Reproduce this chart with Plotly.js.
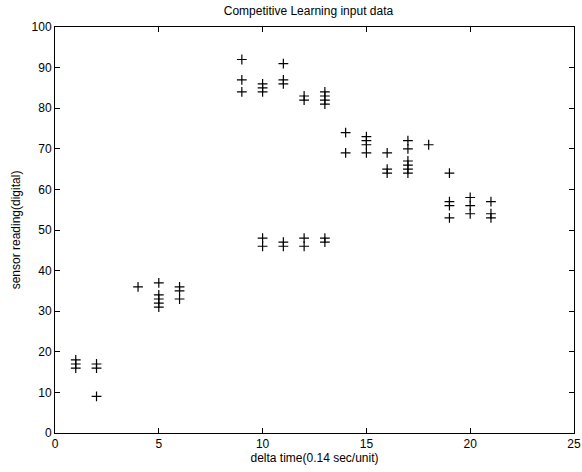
<!DOCTYPE html>
<html>
<head>
<meta charset="utf-8">
<script src="https://cdn.plot.ly/plotly-3.0.1.min.js"></script>
<style>html,body{margin:0;padding:0;background:#fff;}#plot{width:582px;height:472px;}</style>
</head>
<body>
<div id="plot"></div>
<script>
const xValues = [1,1,1, 2,2,2, 4, 5,5,5,5,5, 6,6,6, 9,9,9, 10,10,10,10,10, 11,11,11,11,11, 12,12,12,12, 13,13,13,13,13,13, 14,14, 15,15,15,15, 16,16,16, 17,17,17,17,17,17, 18, 19,19,19,19, 20,20,20, 21,21,21];
const yValues = [18,17,16, 17,16,9, 36, 37,34,33,32,31, 36,35,33, 92,87,84, 86,85,84,48,46, 91,87,86,47,46, 83,82,48,46, 84,83,82,81,48,47, 74,69, 73,72,71,69, 69,65,64, 72,70,67,66,65,64, 71, 64,57,56,53, 58,56,54, 57,54,53];
const xTicks = [0,5,10,15,20,25];
const yTicks = [0,10,20,30,40,50,60,70,80,90,100];

const font = {family: 'Liberation Sans, Arial, sans-serif', size: 12, color: '#000'};
Plotly.newPlot('plot', [{
  x: xValues, y: yValues, type: 'scatter', mode: 'markers',
  marker: {symbol: 'cross-thin-open', size: 7, line: {color: '#000', width: 1.2}, color: '#000'},
  hoverinfo: 'none'
}], {
  width: 582, height: 472,
  margin: {l: 55, r: 8, t: 27, b: 39},
  paper_bgcolor: '#fff', plot_bgcolor: '#fff',
  font: font,
  showlegend: false,
  title: {text: 'Competitive Learning input data', font: {family: font.family, size: 12, color: '#000'}, x: 0.53, xanchor: 'center', y: 0.985, yanchor: 'top'},
  xaxis: {
    range: [0, 25], tickvals: xTicks, ticktext: xTicks.map(String),
    ticks: 'inside', ticklen: 5, tickcolor: '#000', showgrid: false, zeroline: false,
    showline: true, linecolor: '#000', linewidth: 1, mirror: 'ticks',
    tickfont: font,
    title: {text: 'delta time(0.14 sec/unit)', font: font, standoff: 2}
  },
  yaxis: {
    range: [0, 100], tickvals: yTicks, ticktext: yTicks.map(String),
    ticks: 'inside', ticklen: 5, tickcolor: '#000', showgrid: false, zeroline: false,
    showline: true, linecolor: '#000', linewidth: 1, mirror: 'ticks',
    tickfont: font,
    title: {text: 'sensor reading(digital)', font: font, standoff: 8}
  }
}, {staticPlot: true});
</script>
</body>
</html>
